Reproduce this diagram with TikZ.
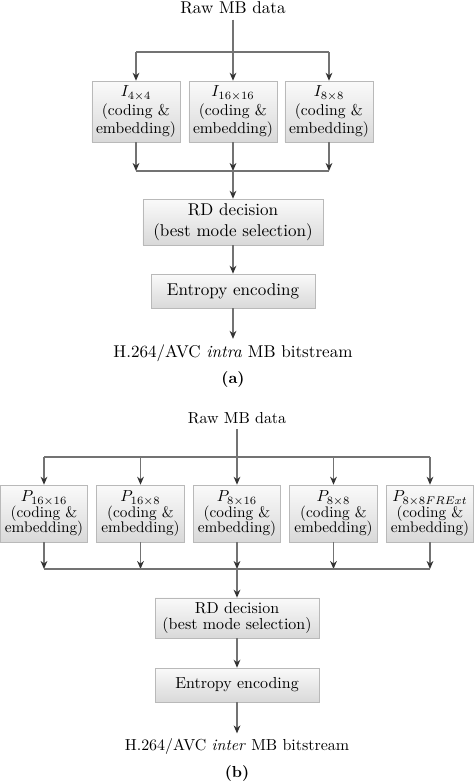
\documentclass[tikz,border=0pt]{standalone}
\usepackage{tikz}
\usetikzlibrary{arrows.meta}
\colorlet{mygray}{black!55}
\colorlet{mytip}{black!80}
\tikzset{
  link/.style={draw=mygray, line width=0.9pt},
  flow/.style={link, -{Stealth[length=5pt, width=4.2pt, inset=1.6pt, color=mytip]}},
  modebox/.style={draw=gray!55, top color=gray!4, bottom color=gray!30,
    inner sep=0pt, align=center},
  stagebox/.style={modebox},
}
\def\Pa{\fontsize{10.7}{12.8}\selectfont}
\def\Pb{\fontsize{10}{10}\selectfont}

\begin{document}
\begin{tikzpicture}[x=0.627pt, y=-0.627pt]
\useasboundingbox (0,0) rectangle (474,781);

% (a) intra
\begin{scope}[font=\Pa]
\node (rawA) at (233,8) {Raw MB data};
\coordinate (splitA) at (233,52);
\coordinate (mergeA) at (233,171);
\foreach \name/\x/\lab in {I4/136/{4\times4}, I16/233/{16\times16}, I8/329/{8\times8}} {
  \node[modebox, minimum width=55.2pt, minimum height=38.2pt,
        font=\fontsize{9.8}{11.3}\selectfont] (\name) at (\x,111.5)
        {$I_{\lab}$\\(coding \&\\embedding)};
  \coordinate (top\name) at (\x,52);
  \coordinate (bot\name) at (\x,171);
  \draw[flow] (top\name) -- (\name);
  \draw[flow] (\name) -- (bot\name);
}
\draw[link] (rawA) -- (splitA);
\draw[link] (topI4) -- (topI8);
\draw[link] (botI4) -- (botI8);

\node[stagebox, minimum width=112.9pt, minimum height=28.8pt] (rdA) at (233,222)
  {RD decision\\(best mode selection)};
\node[stagebox, minimum width=102.8pt, minimum height=21.3pt] (entA) at (233,291)
  {Entropy encoding};
\node (outA) at (233,353) {H.264/AVC \emph{intra} MB bitstream};
\node[font=\fontsize{10}{12}\selectfont\bfseries] (labA) at (233,379) {(a)};

\draw[flow] (mergeA) -- (rdA);
\draw[flow] (rdA) -- (entA);
\draw[flow] (entA) -- (outA);
\end{scope}

% (b) inter
\begin{scope}[font=\Pb]
\node (rawB) at (237,418) {Raw MB data};
\coordinate (splitB) at (237,457);
\coordinate (mergeB) at (237,569);
\foreach \name/\x/\lab in {P1/44/{16\times16}, P2/140.5/{16\times8}, P3/237/{8\times16},
                           P4/333.5/{8\times8}, P5/430/{8\times8FRExt}} {
  \node[modebox, minimum width=54.8pt, minimum height=35.7pt,
        font=\fontsize{9.6}{9.6}\selectfont] (\name) at (\x,513.5)
        {$P_{\lab}$\\(coding \&\\embedding)};
  \coordinate (top\name) at (\x,457);
  \coordinate (bot\name) at (\x,569);
  \draw[flow] (top\name) -- (\name);
  \draw[flow] (\name) -- (bot\name);
}
\draw[link] (rawB) -- (splitB);
\draw[link] (topP1) -- (topP5);
\draw[link] (botP1) -- (botP5);

\node[stagebox, minimum width=102.8pt, minimum height=25.1pt] (rdB) at (237,618)
  {RD decision\\(best mode selection)};
\node[stagebox, minimum width=102.8pt, minimum height=21.3pt] (entB) at (237,685)
  {Entropy encoding};
\node (outB) at (237,747) {H.264/AVC \emph{inter} MB bitstream};
\node[font=\fontsize{10}{12}\selectfont\bfseries] (labB) at (237,773) {(b)};

\draw[flow] (mergeB) -- (rdB);
\draw[flow] (rdB) -- (entB);
\draw[flow] (entB) -- (outB);
\end{scope}

\end{tikzpicture}
\end{document}
